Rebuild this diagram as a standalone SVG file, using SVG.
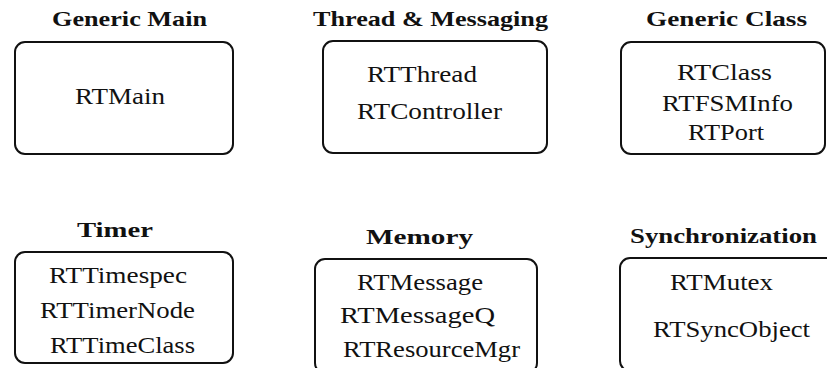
<svg xmlns="http://www.w3.org/2000/svg" width="827" height="368" viewBox="0 0 827 368">
  <style>
    .box { fill: #ffffff; stroke: #111111; stroke-width: 2; }
    .title { font-family: "Liberation Serif", "Times New Roman", serif; font-weight: bold; font-size: 21px; fill: #111111; }
    .item { font-family: "Liberation Serif", "Times New Roman", serif; font-size: 24px; fill: #111111; }
  </style>
  <rect width="827" height="368" fill="#ffffff"/>

  <g id="generic-main">
    <text class="title" x="52" y="26" textLength="155" lengthAdjust="spacingAndGlyphs">Generic Main</text>
    <rect class="box" x="15" y="42" width="218" height="112" rx="10"/>
    <text class="item" x="75" y="104" textLength="90" lengthAdjust="spacingAndGlyphs">RTMain</text>
  </g>

  <g id="thread-messaging">
    <text class="title" x="313" y="26" textLength="235" lengthAdjust="spacingAndGlyphs">Thread &amp; Messaging</text>
    <rect class="box" x="323" y="41" width="224" height="112" rx="10"/>
    <text class="item" x="367" y="82" textLength="110" lengthAdjust="spacingAndGlyphs">RTThread</text>
    <text class="item" x="357" y="119" textLength="145" lengthAdjust="spacingAndGlyphs">RTController</text>
  </g>

  <g id="generic-class">
    <text class="title" x="646" y="26" textLength="161" lengthAdjust="spacingAndGlyphs">Generic Class</text>
    <rect class="box" x="621" y="42" width="204" height="112" rx="10"/>
    <text class="item" x="677" y="80" textLength="95" lengthAdjust="spacingAndGlyphs">RTClass</text>
    <text class="item" x="662" y="111" textLength="131" lengthAdjust="spacingAndGlyphs">RTFSMInfo</text>
    <text class="item" x="688" y="140" textLength="76" lengthAdjust="spacingAndGlyphs">RTPort</text>
  </g>

  <g id="timer">
    <text class="title" x="77" y="237" textLength="76" lengthAdjust="spacingAndGlyphs">Timer</text>
    <rect class="box" x="15" y="252" width="218" height="111" rx="10"/>
    <text class="item" x="49" y="283" textLength="138" lengthAdjust="spacingAndGlyphs">RTTimespec</text>
    <text class="item" x="40" y="318" textLength="155" lengthAdjust="spacingAndGlyphs">RTTimerNode</text>
    <text class="item" x="50" y="353" textLength="145" lengthAdjust="spacingAndGlyphs">RTTimeClass</text>
  </g>

  <g id="memory">
    <text class="title" x="366" y="244" textLength="107" lengthAdjust="spacingAndGlyphs">Memory</text>
    <rect class="box" x="315" y="259" width="222" height="114" rx="10"/>
    <text class="item" x="357" y="290" textLength="126" lengthAdjust="spacingAndGlyphs">RTMessage</text>
    <text class="item" x="340" y="323" textLength="155" lengthAdjust="spacingAndGlyphs">RTMessageQ</text>
    <text class="item" x="343" y="357" textLength="177" lengthAdjust="spacingAndGlyphs">RTResourceMgr</text>
  </g>

  <g id="synchronization">
    <text class="title" x="630" y="243" textLength="187" lengthAdjust="spacingAndGlyphs">Synchronization</text>
    <rect class="box" x="620" y="258" width="220" height="113" rx="10"/>
    <text class="item" x="670" y="290" textLength="103" lengthAdjust="spacingAndGlyphs">RTMutex</text>
    <text class="item" x="653" y="337" textLength="157" lengthAdjust="spacingAndGlyphs">RTSyncObject</text>
  </g>
</svg>
